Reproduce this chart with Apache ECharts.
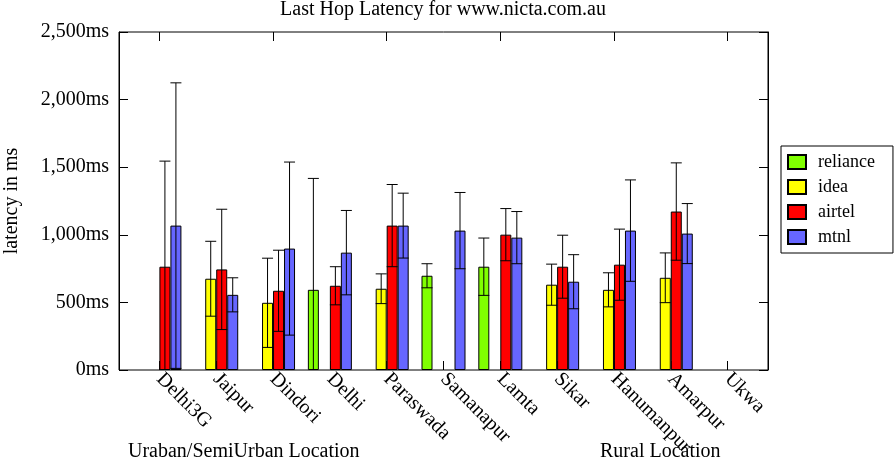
<!DOCTYPE html>
<html>
<head>
<meta charset="utf-8">
<script src="https://cdn.jsdelivr.net/npm/echarts@6/dist/echarts.min.js"></script>
<style>
  html, body { margin: 0; padding: 0; background: #fff; }
  #main { width: 896px; height: 468px; }
</style>
</head>
<body>
<div id="main"></div>
<script>
var myChart = echarts.init(document.getElementById('main'));

// locations along x
var locations = ['Delhi3G', 'Jaipur', 'Dindori', 'Delhi', 'Paraswada', 'Samanapur',
                 'Lamta', 'Sikar', 'Hanumanpur', 'Amarpur', 'Ukwa'];
var operators = ['reliance', 'idea', 'airtel', 'mtnl'];
var colors = ['#80ff00', '#ffff00', '#ff0000', '#6666ff'];

// mean latency (ms)
var reliance = [null, null, null, 593, null, 697, 764, null, null, null, null];
var idea     = [null, 675, 497, null, 601, null, null, 631, 593, 682, null];
var airtel   = [764, 744, 586, 623, 1068, null, 1001, 764, 779, 1172, null];
var mtnl     = [1068, 556, 898, 868, 1068, 1031, 979, 653, 1031, 1009, null];

// error bar half length (ms)
var relianceErr = [null, null, null, 824, null, 89, 212, null, null, null, null];
var ideaErr     = [null, 277, 330, null, 110, null, null, 152, 126, 184, null];
var airtelErr   = [781, 445, 300, 141, 304, null, 193, 233, 263, 360, null];
var mtnlErr     = [1056, 126, 640, 312, 240, 282, 193, 200, 375, 222, null];

var yTicks = [0, 500, 1000, 1500, 2000, 2500];

var means = [reliance, idea, airtel, mtnl];
var errs = [relianceErr, ideaErr, airtelErr, mtnlErr];
var barW = 11;
var font = 'Liberation Serif';

var errData = [];
for (var s = 0; s < means.length; s++) {
    for (var i = 0; i < locations.length; i++) {
        if (means[s][i] != null) {
            errData.push([i, means[s][i], errs[s][i], s]);
        }
    }
}

function fmt(v) {
    return String(v).replace(/\B(?=(\d{3})+(?!\d))/g, ',') + 'ms';
}

function renderErr(params, api) {
    var cat = api.value(0), mean = api.value(1), sd = api.value(2), s = api.value(3);
    var x = api.coord([cat, 0])[0] + (s - 1.5) * barW;
    var hi = api.coord([cat, mean + sd])[1];
    var lo = mean - sd;
    var loY = api.coord([cat, Math.max(lo, 0)])[1];
    var st = { stroke: '#000', lineWidth: 1 };
    var kids = [
        { type: 'line', shape: { x1: x, y1: hi, x2: x, y2: loY }, style: st },
        { type: 'line', shape: { x1: x - barW / 2, y1: hi, x2: x + barW / 2, y2: hi }, style: st }
    ];
    if (lo >= 0) {
        kids.push({ type: 'line', shape: { x1: x - barW / 2, y1: loY, x2: x + barW / 2, y2: loY }, style: st });
    }
    return { type: 'group', children: kids };
}

var series = [];
for (var k = 0; k < operators.length; k++) {
    series.push({
        name: operators[k],
        type: 'bar',
        xAxisIndex: 0,
        yAxisIndex: 0,
        barWidth: barW,
        barGap: '0%',
        data: means[k],
        itemStyle: { color: colors[k], borderColor: '#000', borderWidth: 1 },
        animation: false
    });
}
series.push({
    name: 'err',
    type: 'custom',
    xAxisIndex: 0,
    yAxisIndex: 0,
    renderItem: renderErr,
    data: errData,
    z: 5,
    silent: true,
    animation: false
});

var option = {
    animation: false,
    title: {
        text: 'Last Hop Latency for www.nicta.com.au',
        left: 443,
        top: 0,
        padding: 0,
        textAlign: 'center',
        textStyle: { fontFamily: font, fontSize: 20, fontWeight: 'normal', color: '#000' }
    },
    legend: {
        data: operators,
        orient: 'vertical',
        left: 781,
        top: 146,
        padding: [7, 18, 7, 6],
        itemWidth: 18,
        itemHeight: 14,
        itemGap: 7,
        borderColor: '#000',
        borderWidth: 1,
        icon: 'rect',
        textStyle: { fontFamily: font, fontSize: 18, color: '#000', lineHeight: 14, padding: [0, 0, 0, 7] }
    },
    grid: [
        // bars area: categories 56.8px apart
        { left: 131, right: 140, top: 32, bottom: 98, show: false, containLabel: false, outerBoundsMode: 'none' },
        // frame
        { left: 119, right: 128, top: 32, bottom: 98, show: true, borderColor: '#000', borderWidth: 1,
          backgroundColor: 'transparent', containLabel: false, outerBoundsMode: 'none' }
    ],
    xAxis: [
        {
            type: 'category', gridIndex: 0, position: 'bottom', data: locations,
            axisLine: { show: false },
            axisTick: { show: true, inside: true, length: 9, alignWithLabel: true, lineStyle: { color: '#000' } },
            axisLabel: { rotate: -45, margin: 6, interval: 0, fontFamily: font, fontSize: 20, color: '#000' }
        },
        {
            type: 'category', gridIndex: 0, position: 'top', data: locations,
            axisLine: { show: false },
            axisTick: { show: true, inside: true, length: 9, alignWithLabel: true, lineStyle: { color: '#000' } },
            axisLabel: { show: false }
        },
        { type: 'value', gridIndex: 1, show: false, min: 0, max: 1 }
    ],
    yAxis: [
        { type: 'value', gridIndex: 0, min: 0, max: 2500, show: false },
        {
            type: 'value', gridIndex: 1, position: 'left', min: yTicks[0], max: yTicks[yTicks.length - 1], interval: 500,
            name: 'latency in ms', nameLocation: 'middle', nameGap: 97,
            nameTextStyle: { fontFamily: font, fontSize: 20, color: '#000' },
            axisLine: { show: true, lineStyle: { color: '#000' } },
            axisTick: { show: true, inside: true, length: 9, lineStyle: { color: '#000' } },
            splitLine: { show: false },
            axisLabel: { margin: 10, fontFamily: font, fontSize: 20, color: '#000', formatter: fmt }
        },
        {
            type: 'value', gridIndex: 1, position: 'right', min: 0, max: 2500, interval: 500,
            axisLine: { show: true, lineStyle: { color: '#000' } },
            axisTick: { show: true, inside: true, length: 9, lineStyle: { color: '#000' } },
            splitLine: { show: false },
            axisLabel: { show: false }
        }
    ],
    graphic: [
        { type: 'text', left: 128, top: 442, style: { text: 'Uraban/SemiUrban Location', font: '20px "Liberation Serif"', fill: '#000' } },
        { type: 'text', left: 600, top: 442, style: { text: 'Rural Location', font: '20px "Liberation Serif"', fill: '#000' } }
    ],
    series: series
};

myChart.setOption(option);
</script>
</body>
</html>
